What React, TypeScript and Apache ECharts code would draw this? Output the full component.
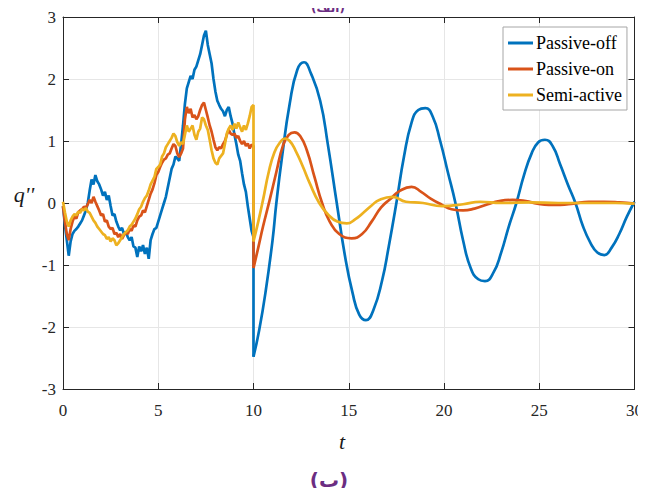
import React, { useEffect, useRef } from "react";
import * as echarts from "echarts";

// ---------- data ----------
const xTicks = [0, 5, 10, 15, 20, 25, 30];
const yTicks = [-3, -2, -1, 0, 1, 2, 3];

const seriesNames = ["Passive-off", "Passive-on", "Semi-active"];
const seriesColors = ["#0072BD", "#D95319", "#EDB120"];

// noisy part: t = 0 .. 10, step 0.1
const noisyStep = 0.1;

const offNoisy = [
  -0.05, -0.35, -0.6, -0.85, -0.62, -0.5, -0.45, -0.42, -0.38, -0.33,
  -0.28, -0.2, -0.12, 0.0, 0.2, 0.38, 0.3, 0.45, 0.35, 0.3,
  0.22, 0.12, 0.18, 0.05, 0.12, -0.05, -0.2, -0.18, -0.3, -0.38,
  -0.44, -0.4, -0.5, -0.47, -0.55, -0.6, -0.55, -0.7, -0.72, -0.87,
  -0.7, -0.78, -0.68, -0.82, -0.72, -0.9, -0.6, -0.5, -0.42, -0.4,
  -0.3, -0.2, -0.1, 0.0, 0.1, 0.25, 0.4, 0.55, 0.62, 0.75,
  0.72, 0.68, 0.95, 1.25, 1.6, 1.85, 1.95, 2.05, 2.0, 2.15,
  2.2, 2.3, 2.4, 2.55, 2.7, 2.78, 2.55, 2.4, 2.25, 2.0,
  1.8, 1.65, 1.58, 1.52, 1.48, 1.4, 1.5, 1.55, 1.4, 1.28,
  1.1, 0.95, 0.78, 0.68, 0.48, 0.3, 0.18, -0.05, -0.25, -0.45,
  -0.55,
];
const onNoisy = [
  -0.05, -0.3, -0.5, -0.6, -0.42, -0.3, -0.22, -0.25, -0.15, -0.12,
  -0.1, -0.06, -0.08, -0.02, 0.05, 0.0, 0.1, 0.02, -0.05, -0.12,
  -0.2, -0.18, -0.3, -0.28, -0.38, -0.42, -0.4, -0.5, -0.48, -0.55,
  -0.5, -0.58, -0.52, -0.47, -0.5, -0.42, -0.45, -0.36, -0.38, -0.28,
  -0.22, -0.2, -0.12, -0.15, -0.05, 0.05, 0.15, 0.22, 0.32, 0.45,
  0.5, 0.58, 0.65, 0.7, 0.72, 0.78, 0.8, 0.88, 0.95, 0.92,
  0.8, 0.74, 0.8, 0.88, 1.35, 1.55, 1.45, 1.52, 1.38, 1.42,
  1.35, 1.4, 1.5, 1.58, 1.62, 1.5, 1.38, 1.25, 1.15, 1.02,
  0.9, 0.85, 0.9, 0.88, 0.95, 1.0, 1.1, 1.18, 1.12, 1.1,
  1.12, 1.05, 1.08, 1.0, 0.95, 1.0, 0.92, 0.96, 0.88, 0.94,
  0.92,
];
const semiNoisy = [
  0.02, -0.15, -0.3, -0.38, -0.28, -0.22, -0.18, -0.2, -0.14, -0.16,
  -0.1, -0.12, -0.08, -0.14, -0.16, -0.22, -0.28, -0.32, -0.38, -0.42,
  -0.46, -0.5, -0.52, -0.58, -0.55, -0.62, -0.57, -0.6, -0.68, -0.65,
  -0.6, -0.55, -0.5, -0.47, -0.44, -0.38, -0.35, -0.3, -0.25, -0.18,
  -0.1, -0.06, 0.02, 0.08, 0.12, 0.2, 0.3, 0.36, 0.42, 0.55,
  0.58, 0.62, 0.75, 0.8, 0.9, 0.95, 1.0, 1.05, 1.12, 1.08,
  0.98, 0.92, 0.98, 0.95, 1.1, 1.25, 1.15, 1.2, 1.25, 1.1,
  1.02, 1.15, 1.2, 1.38, 1.35, 1.25, 1.18, 1.02, 0.85, 0.72,
  0.65, 0.62, 0.72, 0.76, 0.8, 0.95, 1.12, 1.2, 1.25, 1.18,
  1.28, 1.2, 1.3, 1.22, 1.15, 1.25, 1.18, 1.28, 1.4, 1.55,
  1.58,
];

// smooth part (t >= 10)
const offSmoothT = [
  10, 10.3, 10.65, 11.0, 11.2, 11.5, 11.9, 12.3, 12.65, 13.0,
  13.5, 13.9, 14.37, 14.8, 15.2, 15.55, 15.9, 16.3, 16.75, 17.1,
  17.5, 17.9, 18.3, 18.65, 19.02, 19.4, 19.8, 20.2, 20.6, 21.0,
  21.4, 21.8, 22.15, 22.6, 23.0, 23.4, 23.8, 24.2, 24.6, 24.95,
  25.3, 25.7, 26.1, 26.5, 26.9, 27.3, 27.7, 28.05, 28.42, 28.8,
  29.2, 29.6, 30,
];
const offSmoothV = [
  -2.48, -2.05, -1.4, -0.6, 0, 0.75, 1.6, 2.15, 2.27, 2.1,
  1.65, 0.95, 0, -0.85, -1.45, -1.8, -1.89, -1.72, -1.25, -0.7,
  0, 0.75, 1.3, 1.5, 1.53, 1.4, 1.0, 0.5, 0, -0.6,
  -1.05, -1.23, -1.26, -1.12, -0.8, -0.38, 0, 0.45, 0.8, 0.98,
  1.02, 0.92, 0.62, 0.3, 0, -0.38, -0.65, -0.8, -0.84, -0.72,
  -0.5, -0.22, 0.02,
];
const onSmoothT = [
  10, 10.25, 10.5, 10.85, 11.2, 11.55, 11.85, 12.15, 12.45, 12.8,
  13.2, 13.6, 14.0, 14.5, 15.15, 15.7, 16.2, 16.7, 17.2, 17.7,
  18.3, 18.8, 19.3, 19.9, 20.4, 21.0, 21.6, 22.3, 22.9, 23.6,
  24.3, 24.9, 25.5, 26.1, 26.8, 27.6, 28.4, 29.2, 30,
];
const onSmoothV = [
  -1.05, -0.72, -0.38, 0.05, 0.5, 0.93, 1.1, 1.14, 1.08, 0.85,
  0.42, 0, -0.3, -0.5, -0.57, -0.5, -0.3, -0.07, 0.07, 0.2,
  0.26, 0.18, 0.07, -0.03, -0.1, -0.12, -0.09, -0.02, 0.03, 0.05,
  0.03, -0.01, -0.03, -0.03, -0.01, 0.02, 0.02, 0.01, -0.01,
];
const semiSmoothT = [
  10, 10.25, 10.5, 10.8, 11.1, 11.4, 11.65, 11.9, 12.2, 12.6,
  12.95, 13.45, 13.9, 14.4, 14.9, 15.35, 15.75, 16.2, 16.6, 17.3,
  18.0, 18.9, 19.9, 21.0, 21.9, 23.0, 24.5, 26.0, 27.5, 29.0,
  30,
];
const semiSmoothV = [
  -0.62, -0.3, 0.05, 0.5, 0.82, 0.98, 1.04, 1.0, 0.85, 0.58,
  0.32, 0, -0.18, -0.3, -0.33, -0.26, -0.16, -0.04, 0.05, 0.1,
  0.02, 0, -0.05, -0.02, 0.02, 0, 0.01, 0, 0, 0,
  -0.01,
];

const noisySets = [offNoisy, onNoisy, semiNoisy];
const smoothTs = [offSmoothT, onSmoothT, semiSmoothT];
const smoothVs = [offSmoothV, onSmoothV, semiSmoothV];

const SERIF = "Times New Roman, Liberation Serif, serif";
const AXIS_COLOR = "#262626";
const PURPLE = "#6b2d82";

export default function App() {
  const ref = useRef<HTMLDivElement>(null);

  useEffect(() => {
    if (!ref.current) return;
    const chart = echarts.init(ref.current, null, { renderer: "svg" });

    const series: any[] = [];
    seriesNames.forEach((name, k) => {
      const color = seriesColors[k];
      const noisy = noisySets[k];
      const noisyData: number[][] = noisy.map((v, i) => [
        Math.round(i * noisyStep * 10) / 10,
        v,
      ]);
      // vertical drop at t = 10 to the start of the smooth part
      noisyData.push([smoothTs[k][0], smoothVs[k][0]]);
      series.push({
        name,
        type: "line",
        data: noisyData,
        showSymbol: false,
        symbol: "none",
        smooth: false,
        lineStyle: { width: 2.7, color },
        itemStyle: { color },
        z: 2 + k,
      });
      series.push({
        name,
        type: "line",
        data: smoothTs[k].map((t, i) => [t, smoothVs[k][i]]),
        showSymbol: false,
        symbol: "none",
        smooth: 0.5,
        lineStyle: { width: 2.7, color },
        itemStyle: { color },
        z: 2 + k,
      });
    });

    const option: any = {
      animation: false,
      backgroundColor: "#ffffff",
      grid: { left: 63, top: 17, width: 572, height: 372, containLabel: false },
      legend: {
        show: true,
        orient: "vertical",
        left: 503,
        top: 27,
        data: seriesNames.map((n) => ({ name: n, icon: "rect" })),
        itemWidth: 25,
        itemHeight: 3,
        itemGap: 6,
        padding: [6, 5, 5, 5],
        borderColor: "#a6a6a6",
        borderWidth: 1,
        borderRadius: 0,
        backgroundColor: "#ffffff",
        selectedMode: false,
        textStyle: {
          fontFamily: SERIF,
          fontSize: 18,
          color: "#000000",
          lineHeight: 20,
          padding: [0, 0, 0, -2],
        },
        z: 10,
      },
      xAxis: [
        {
          type: "value",
          min: xTicks[0],
          max: xTicks[xTicks.length - 1],
          interval: 5,
          position: "bottom",
          axisLine: { show: true, onZero: false, lineStyle: { color: AXIS_COLOR, width: 1 } },
          axisTick: { show: true, inside: true, length: 6, lineStyle: { color: AXIS_COLOR } },
          axisLabel: {
            show: true,
            margin: 13,
            fontFamily: SERIF,
            fontSize: 17,
            color: AXIS_COLOR,
          },
          splitLine: { show: true, lineStyle: { color: "#e6e6e6", width: 1 } },
        },
        {
          type: "value",
          min: xTicks[0],
          max: xTicks[xTicks.length - 1],
          interval: 5,
          position: "top",
          axisLine: { show: true, onZero: false, lineStyle: { color: AXIS_COLOR, width: 1 } },
          axisTick: { show: true, inside: true, length: 6, lineStyle: { color: AXIS_COLOR } },
          axisLabel: { show: false },
          splitLine: { show: false },
        },
      ],
      yAxis: [
        {
          type: "value",
          min: yTicks[0],
          max: yTicks[yTicks.length - 1],
          interval: 1,
          position: "left",
          axisLine: { show: true, onZero: false, lineStyle: { color: AXIS_COLOR, width: 1 } },
          axisTick: { show: true, inside: true, length: 6, lineStyle: { color: AXIS_COLOR } },
          axisLabel: {
            show: true,
            margin: 7,
            fontFamily: SERIF,
            fontSize: 17,
            color: AXIS_COLOR,
          },
          splitLine: { show: true, lineStyle: { color: "#e6e6e6", width: 1 } },
        },
        {
          type: "value",
          min: yTicks[0],
          max: yTicks[yTicks.length - 1],
          interval: 1,
          position: "right",
          axisLine: { show: true, onZero: false, lineStyle: { color: AXIS_COLOR, width: 1 } },
          axisTick: { show: true, inside: true, length: 6, lineStyle: { color: AXIS_COLOR } },
          axisLabel: { show: false },
          splitLine: { show: false },
        },
      ],
      series,
      graphic: [
        {
          type: "text",
          x: 328,
          y: 8,
          style: {
            text: "(الف)",
            fontFamily: "DejaVu Sans",
            fontWeight: "bold",
            fontSize: 12,
            fill: PURPLE,
            textAlign: "center",
            textVerticalAlign: "middle",
          },
        },
        {
          type: "text",
          x: 342,
          y: 441,
          style: {
            text: "t",
            fontFamily: SERIF,
            fontStyle: "italic",
            fontSize: 22,
            fill: "#1a1a1a",
            textAlign: "center",
            textVerticalAlign: "middle",
          },
        },
        {
          type: "text",
          x: 24,
          y: 194,
          style: {
            text: "q''",
            fontFamily: SERIF,
            fontStyle: "italic",
            fontSize: 22,
            fill: "#1a1a1a",
            textAlign: "center",
            textVerticalAlign: "middle",
          },
        },
        {
          type: "text",
          x: 329,
          y: 480,
          style: {
            text: "(ب)",
            fontFamily: "DejaVu Sans",
            fontWeight: "bold",
            fontSize: 20,
            fill: PURPLE,
            textAlign: "center",
            textVerticalAlign: "middle",
          },
        },
      ],
    };

    chart.setOption(option);
    return () => {
      chart.dispose();
    };
  }, []);

  return <div ref={ref} style={{ width: 646, height: 496, margin: -8 }} />;
}
